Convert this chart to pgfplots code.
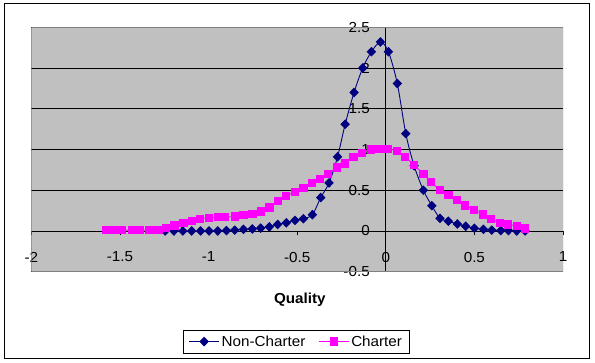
\documentclass[border=0pt]{standalone}
\usepackage{pgfplots}
\pgfplotsset{compat=1.18}
\usepackage{fontspec}
\setmainfont{Liberation Sans}[FakeStretch=1.05]
\definecolor{navy}{RGB}{0,0,128}
\definecolor{magentax}{RGB}{255,0,255}
\definecolor{excelgray}{RGB}{192,192,192}
\definecolor{bordergray}{RGB}{128,128,128}
\begin{document}
\begin{tikzpicture}[x=1pt,y=1pt]
\fill[white] (0,0) rectangle (595,363);
\draw[black,line width=1.2pt] (4.7,4.7) rectangle (589.5,359.7);
\begin{axis}[
  at={(31.3pt,91.3pt)}, anchor=south west,
  width=531.7pt, height=244.4pt, scale only axis,
  xmin=-2, xmax=1, ymin=-0.5, ymax=2.5,
  axis lines=middle,
  axis line style={-, black, line width=0.8pt},
  hide obscured x ticks=false, hide obscured y ticks=false,
  xtick={-2,-1.5,-1,-0.5,0,0.5,1},
  ytick={-0.5,0,0.5,1,1.5,2,2.5},
  tick align=outside, major tick length=4.5pt,
  tick style={black, line width=0.8pt},
  ymajorgrids, grid style={black, line width=0.8pt},
  axis background/.style={fill=excelgray},
  /pgf/number format/assume math mode=true,
  ticklabel style={font=\fontsize{14.5}{16}\selectfont},
  xticklabel style={anchor=north, yshift=-13pt},
  yticklabel style={anchor=east, xshift=-8pt},
  xlabel={\textbf{Quality}},
  every axis x label/.style={at={(axis description cs:0.505,-0.115)}, anchor=center, font=\fontsize{14.5}{16}\selectfont},
  legend style={at={(axis description cs:0.4985,-0.286)}, anchor=center,
    legend columns=2, draw=black, fill=white,
    font=\fontsize{14.5}{16}\selectfont,
    inner xsep=5pt, inner ysep=3.5pt,
    /tikz/every even column/.append style={column sep=11pt}},
  legend image code/.code={\draw[mark repeat=2,mark phase=2] plot coordinates {(0pt,0pt) (15pt,0pt) (30pt,0pt)};},
]
\addplot[navy, line width=0.9pt, smooth, mark=diamond*, mark size=4.2pt, mark options={xscale=1.3, solid, fill=navy}] coordinates {
(-1.245,0.00) (-1.195,0.00) (-1.145,0.00) (-1.095,0.00) (-1.045,0.00) (-0.997,0.00)
(-0.948,0.00) (-0.899,0.005) (-0.852,0.01) (-0.803,0.02) (-0.753,0.025) (-0.706,0.035)
(-0.657,0.05) (-0.610,0.08) (-0.561,0.10) (-0.512,0.13) (-0.465,0.15) (-0.414,0.20)
(-0.367,0.41) (-0.320,0.59) (-0.272,0.91) (-0.229,1.31) (-0.179,1.70) (-0.130,2.00)
(-0.081,2.20) (-0.030,2.32) (0.015,2.20) (0.065,1.81) (0.113,1.195) (0.160,0.80)
(0.212,0.50) (0.260,0.31) (0.306,0.155) (0.353,0.12) (0.404,0.086) (0.451,0.058)
(0.500,0.033) (0.551,0.02) (0.598,0.01) (0.649,0.005) (0.692,0.005) (0.739,0.00) (0.786,0.00)
};
\addlegendentry{Non-Charter}
\addplot[magentax, line width=0.9pt, smooth, mark=square*, mark size=3.7pt, mark options={solid, fill=magentax}] coordinates {
(-1.580,0.01) (-1.537,0.01) (-1.490,0.01) (-1.433,0.01) (-1.386,0.01) (-1.334,0.01)
(-1.283,0.01) (-1.240,0.04) (-1.193,0.07) (-1.142,0.10) (-1.095,0.12) (-1.048,0.15)
(-0.998,0.16) (-0.945,0.17) (-0.907,0.17) (-0.851,0.18) (-0.804,0.20) (-0.753,0.21)
(-0.704,0.24) (-0.657,0.29) (-0.610,0.37) (-0.563,0.43) (-0.512,0.48) (-0.465,0.53)
(-0.418,0.59) (-0.371,0.64) (-0.326,0.70) (-0.277,0.78) (-0.230,0.83) (-0.183,0.91)
(-0.135,0.96) (-0.085,1.00) (-0.038,1.01) (0.009,1.01) (0.062,0.98) (0.109,0.91)
(0.160,0.81) (0.212,0.70) (0.256,0.60) (0.306,0.50) (0.353,0.44) (0.400,0.38)
(0.447,0.315) (0.498,0.26) (0.547,0.205) (0.594,0.15) (0.645,0.095) (0.688,0.08)
(0.739,0.06) (0.786,0.03)
};
\addlegendentry{Charter}
\draw[bordergray, line width=1pt] (rel axis cs:0,0) rectangle (rel axis cs:1,1);
\end{axis}
\end{tikzpicture}
\end{document}
